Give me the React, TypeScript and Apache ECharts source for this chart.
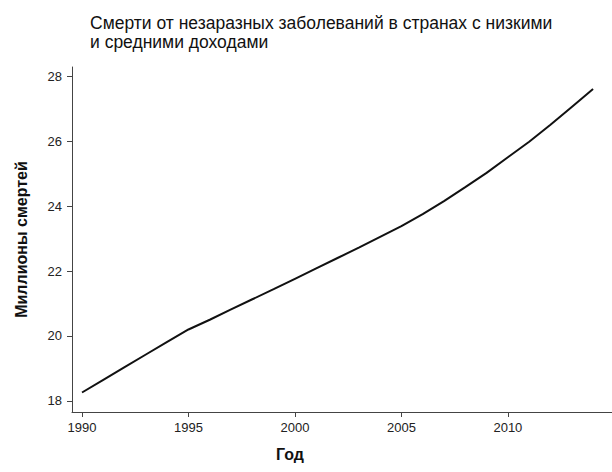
import React, { useEffect, useRef } from "react";
import * as echarts from "echarts";

const titleText = "Смерти от незаразных заболеваний в странах с низкими\nи средними доходами";
const xAxisName = "Год";
const yAxisName = "Миллионы смертей";

const years = [1990, 1991, 1992, 1993, 1994, 1995, 1996, 1997, 1998, 1999, 2000, 2001, 2002, 2003, 2004, 2005, 2006, 2007, 2008, 2009, 2010, 2011, 2012, 2013, 2014];
const deaths = [18.26, 18.65, 19.04, 19.43, 19.82, 20.2, 20.5, 20.82, 21.13, 21.44, 21.76, 22.08, 22.4, 22.72, 23.05, 23.38, 23.75, 24.15, 24.58, 25.02, 25.5, 25.98, 26.5, 27.05, 27.6];

const xTicks = [1990, 1995, 2000, 2005, 2010];
const yTicks = [18, 20, 22, 24, 26, 28];

const FONT = "'Liberation Sans', Arial, sans-serif";

export default function App() {
  const ref = useRef<HTMLDivElement>(null);
  useEffect(() => {
    if (!ref.current) return;
    const chart = echarts.init(ref.current, null, { renderer: "svg" });
    chart.setOption({
      animation: false,
      backgroundColor: "#ffffff",
      title: {
        text: titleText,
        left: 85,
        top: 8,
        textStyle: { fontFamily: FONT, fontSize: 17.5, fontWeight: "normal", color: "#111", lineHeight: 19 },
      },
      grid: { left: 72, right: 0, top: 67, bottom: 60, containLabel: false },
      xAxis: {
        type: "value",
        min: 1989.53,
        max: 2014.89,
        axisLine: { show: true, lineStyle: { color: "#444", width: 1 } },
        axisTick: { show: true, length: 5, customValues: xTicks, lineStyle: { color: "#444" } },
        axisLabel: {
          customValues: xTicks,
          margin: 9,
          fontFamily: FONT,
          fontSize: 13,
          color: "#222",
          formatter: (v: number) => String(Math.round(v)),
        },
        splitLine: { show: false },
      },
      yAxis: {
        type: "value",
        min: 17.66,
        max: 28.28,
        name: yAxisName,
        nameLocation: "middle",
        nameGap: 43,
        nameTextStyle: { fontFamily: FONT, fontSize: 16, fontWeight: "bold", color: "#111" },
        axisLine: { show: true, lineStyle: { color: "#444", width: 1 } },
        axisTick: { show: true, length: 5, customValues: yTicks, lineStyle: { color: "#444" } },
        axisLabel: {
          customValues: yTicks,
          margin: 10,
          fontFamily: FONT,
          fontSize: 13,
          color: "#222",
          formatter: (v: number) => String(Math.round(v)),
        },
        splitLine: { show: false },
      },
      graphic: [
        {
          type: "text",
          left: 276,
          top: 446,
          style: { text: xAxisName, fontFamily: FONT, fontSize: 16, fontWeight: "bold", fill: "#111" },
        },
      ],
      series: [
        {
          type: "line",
          data: years.map((y, i) => [y, deaths[i]]),
          showSymbol: false,
          lineStyle: { color: "#111", width: 2 },
        },
      ],
    });
    return () => chart.dispose();
  }, []);
  return <div ref={ref} style={{ position: "fixed", left: 0, top: 0, width: 612, height: 472 }} />;
}
